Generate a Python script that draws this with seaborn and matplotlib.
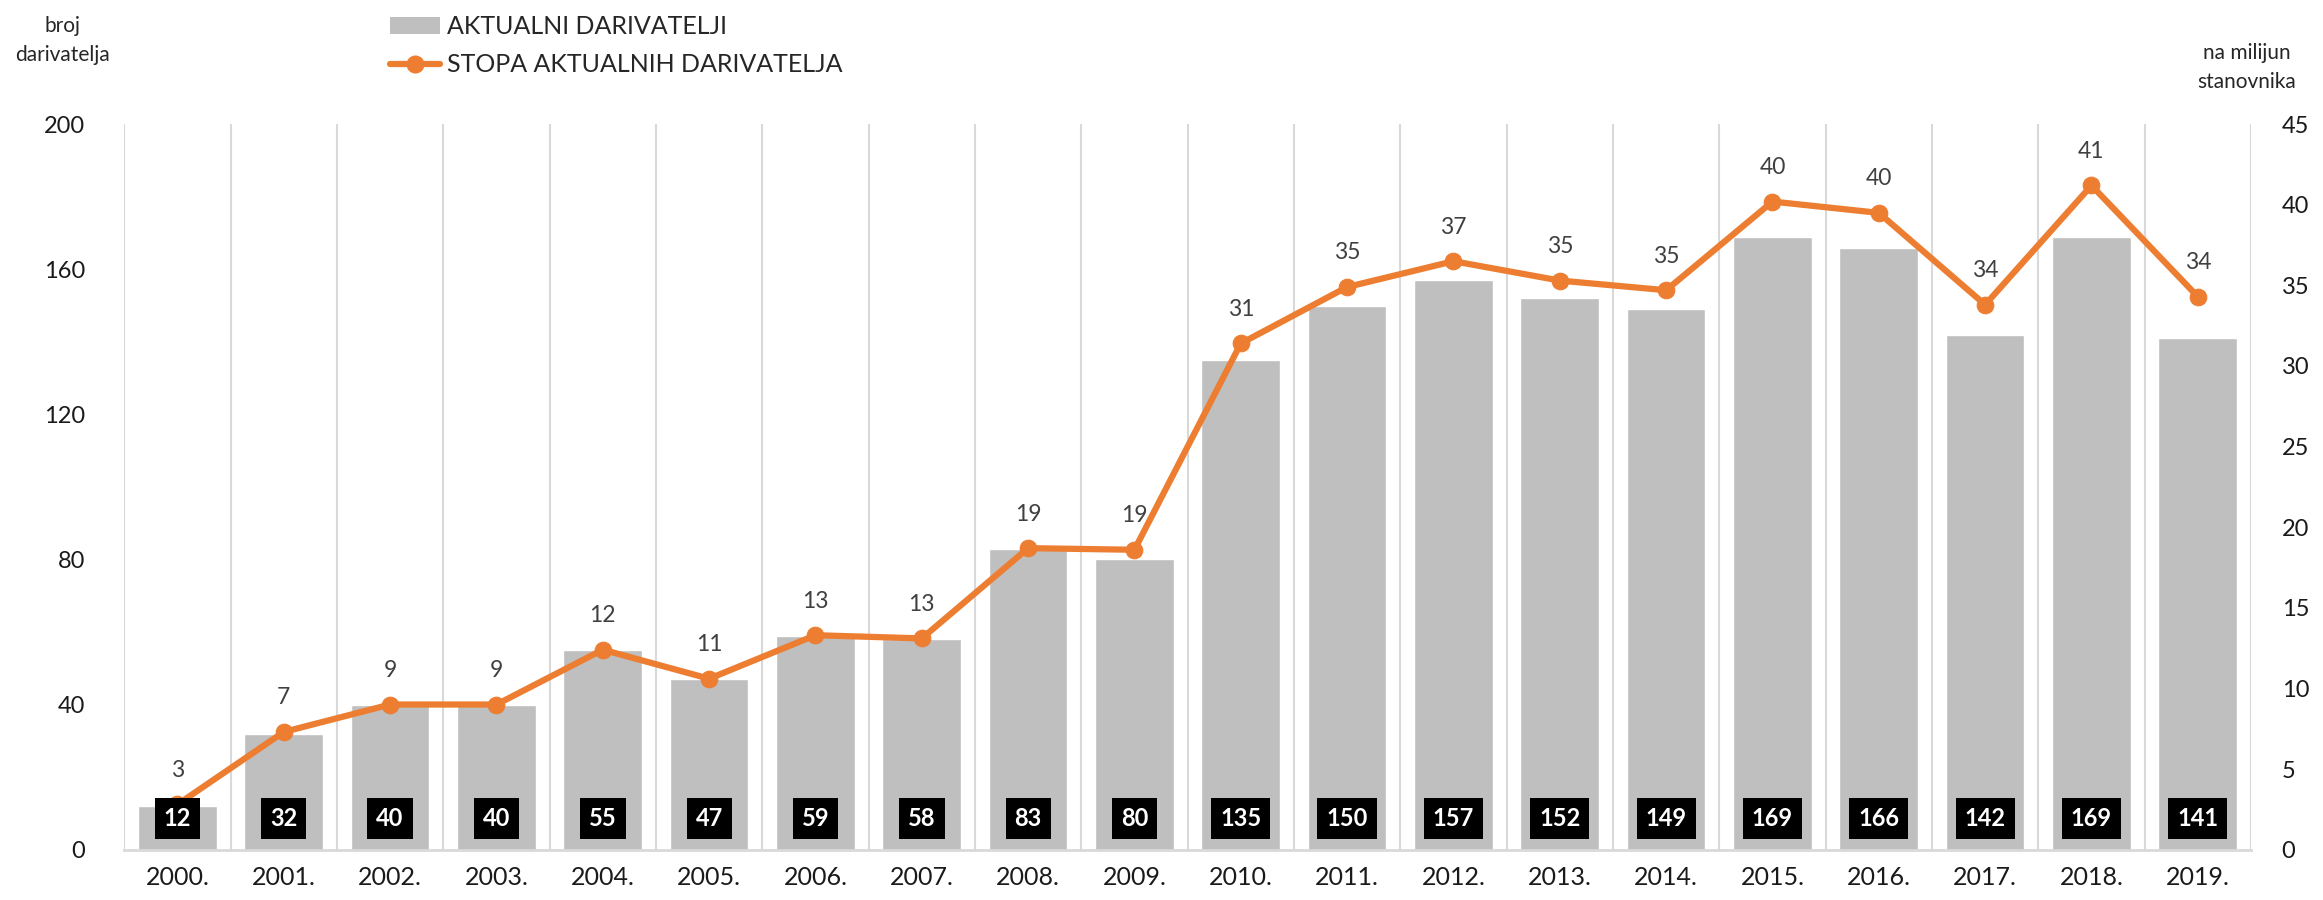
import numpy as np
import pandas as pd
import seaborn as sns
import matplotlib.pyplot as plt
from matplotlib.lines import Line2D
from matplotlib.patches import Patch

years = ['2000.', '2001.', '2002.', '2003.', '2004.', '2005.', '2006.', '2007.', '2008.', '2009.',
         '2010.', '2011.', '2012.', '2013.', '2014.', '2015.', '2016.', '2017.', '2018.', '2019.']
donors = [12, 32, 40, 40, 55, 47, 59, 58, 83, 80, 135, 150, 157, 152, 149, 169, 166, 142, 169, 141]
rate = [2.8, 7.3, 9.0, 9.0, 12.4, 10.6, 13.3, 13.1, 18.7, 18.6,
        31.4, 34.9, 36.5, 35.3, 34.7, 40.2, 39.5, 33.8, 41.2, 34.3]
rate_labels = [3, 7, 9, 9, 12, 11, 13, 13, 19, 19, 31, 35, 37, 35, 35, 40, 40, 34, 41, 34]

sns.set_style("white")
plt.rcParams['font.family'] = ['Lato', 'DejaVu Sans']

bar_col = '#BFBFBF'
line_col = '#ED7D31'
grid_col = '#D9D9D9'

df = pd.DataFrame({'godina': years, 'darivatelji': donors, 'stopa': rate,
                   'pos': np.arange(len(years))})

fig = plt.figure(figsize=(23.23, 9), dpi=100)
ax = fig.add_axes([0.0535, 0.056, 0.9155, 0.806])

sns.barplot(data=df, x='godina', y='darivatelji', color=bar_col, width=0.74,
            saturation=1, ax=ax, zorder=2)
ax.set_xlim(-0.5, len(years) - 0.5)
ax.set_ylim(0, 200)
ax.set_yticks([0, 40, 80, 120, 160, 200])
ax.set_xlabel('')
ax.set_ylabel('')
for b in np.arange(-0.5, len(years), 1.0):
    ax.axvline(b, color=grid_col, lw=1.5, zorder=0)
for s in ['top', 'right', 'left']:
    ax.spines[s].set_visible(False)
ax.spines['bottom'].set_color(grid_col)
ax.spines['bottom'].set_linewidth(2)
ax.tick_params(axis='both', length=0, labelsize=17, colors='#1a1a1a')
ax.tick_params(axis='x', pad=12, labelsize=18)
ax.tick_params(axis='y', pad=28)

ax2 = ax.twinx()
sns.lineplot(data=df, x='pos', y='stopa', color=line_col, lw=4.5, marker='o',
             markersize=12, markeredgecolor=line_col, ax=ax2, zorder=4)
ax2.set_ylim(0, 45)
ax2.set_yticks(range(0, 50, 5))
ax2.set_xlim(-0.5, len(years) - 0.5)
ax2.set_ylabel('')
ax2.set_xlabel('')
for s in ['top', 'right', 'left', 'bottom']:
    ax2.spines[s].set_visible(False)
ax2.tick_params(axis='y', length=0, labelsize=17, colors='#1a1a1a', pad=22)

# bar value boxes drawn on top of the line
for i, v in enumerate(donors):
    ax2.text(i, 8.5, str(v), transform=ax.transData, ha='center', va='center',
             color='white', fontsize=17, fontweight='bold', zorder=6,
             bbox=dict(boxstyle='square,pad=0.38', facecolor='black', edgecolor='none'))

for i, (v, lab) in enumerate(zip(rate, rate_labels)):
    ax2.annotate(str(lab), (i, v), xytext=(0, 17), textcoords='offset points',
                 ha='center', va='bottom', fontsize=16.5, color='#404040')

fig.text(0.027, 0.955, 'broj\ndarivatelja', ha='center', va='center', fontsize=15,
         linespacing=1.6)
fig.text(0.967, 0.925, 'na milijun\nstanovnika', ha='center', va='center', fontsize=15,
         linespacing=1.6)

handles = [Patch(facecolor=bar_col, edgecolor='none'),
           Line2D([0], [0], color=line_col, lw=4.5, marker='o', markersize=12)]
fig.legend(handles, ['AKTUALNI DARIVATELJI', 'STOPA AKTUALNIH DARIVATELJA'],
           loc='upper left', bbox_to_anchor=(0.158, 1.008), frameon=False,
           fontsize=18, handlelength=2.0, handletextpad=0.3, labelspacing=0.6)

fig.savefig('out.png', dpi=100)
